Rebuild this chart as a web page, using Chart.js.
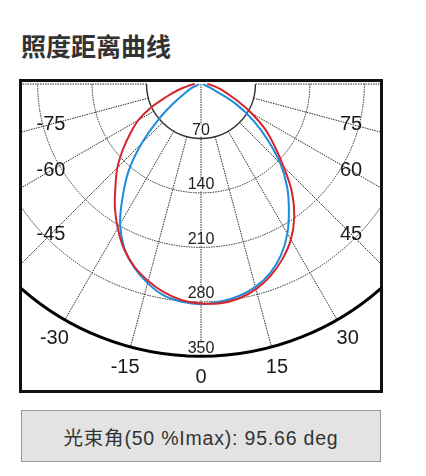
<!DOCTYPE html>
<html><head><meta charset="utf-8">
<script src="https://cdn.jsdelivr.net/npm/chart.js@4"></script>
<style>
html,body{margin:0;padding:0;background:#fff}
body{width:426px;height:476px;position:relative;overflow:hidden;font-family:"Liberation Sans",Arial,sans-serif}
#title{position:absolute;left:21px;top:33px;font-weight:bold;font-size:25px;line-height:25px;font-family:"Noto Sans CJK SC",sans-serif;color:#333;white-space:nowrap}
#box{position:absolute;left:19px;top:79px;width:358px;height:308px;border:3px solid #111}
#box canvas{display:block}
#info{position:absolute;left:21px;top:410px;width:358px;height:50px;background:#e3e3e3;border:1.5px solid #9a9a9a;display:flex;align-items:center;justify-content:center;font-size:19.5px;letter-spacing:0.8px;color:#333;font-family:"Liberation Sans","Noto Sans CJK SC",sans-serif;white-space:nowrap}
</style></head>
<body>
<div id="title">照度距离曲线</div>
<div id="box"><canvas id="c" width="358" height="308"></canvas></div>
<div id="info">光束角(50 %Imax): 95.66 deg</div>
<script>
const angles = [-90,-85,-80,-75,-70,-65,-60,-55,-50,-45,-40,-35,-30,-25,-20,-15,-10,-5,0,5,10,15,20,25,30,35,40,45,50,55,60,65,70,75,80,85,90];
const redValues = [8,12,19,31,46,70,93,111,131,152,171,193,214,234,250,262,272,279,282,283,280,273,262,248,231,209,182,150,123,100,75,52,36,26,18,12,8];
const blueValues = [3,3,4,5,8,15,24,43,72,108,144,175,208,233,251,265,276,281,283,281,277,270,259,243,222,197,172,144,112,83,53,20,8,5,4,3,3];
const ringTicks = [70,140,210,280,350];
const angleTicks = [-75,-60,-45,-30,-15,0,15,30,45,60,75];
const gridAngles = [-90,-75,-60,-45,-30,-15,0,15,30,45,60,75,90];

const K = 0.778; // px per unit
const toXY = vals => vals.map((v,i)=>{const t=angles[i]*Math.PI/180;return {x:v*Math.sin(t), y:-v*Math.cos(t)};});

const polarGrid = {
  id:'polarGrid',
  beforeDatasetsDraw(chart){
    const {ctx, chartArea:a, scales:{x,y}} = chart;
    const cx = x.getPixelForValue(0), cy = y.getPixelForValue(0);
    const px = v => x.getPixelForValue(v) - cx;
    ctx.save();
    ctx.beginPath(); ctx.rect(a.left,a.top,a.right-a.left,a.bottom-a.top); ctx.clip();
    // radial lines
    ctx.strokeStyle='#2a2a2a'; ctx.lineWidth=1; ctx.setLineDash([1.5,1]);
    gridAngles.forEach(g=>{
      const t=g*Math.PI/180, r0 = g===0?0:px(ringTicks[0]), r1=px(ringTicks[ringTicks.length-1]);
      ctx.beginPath();
      ctx.moveTo(cx+r0*Math.sin(t), cy+r0*Math.cos(t));
      ctx.lineTo(cx+r1*Math.sin(t), cy+r1*Math.cos(t));
      ctx.stroke();
    });
    // rings
    ringTicks.forEach((tk,i)=>{
      const r=px(tk);
      ctx.beginPath(); ctx.arc(cx,cy,r,0,Math.PI,false);
      if(i===ringTicks.length-1){ctx.setLineDash([]);ctx.strokeStyle='#000';ctx.lineWidth=3;}
      else if(i===0){ctx.setLineDash([]);ctx.strokeStyle='#333';ctx.lineWidth=1.4;}
      else {ctx.setLineDash([1.5,1]);ctx.strokeStyle='#2a2a2a';ctx.lineWidth=1;}
      ctx.stroke();
    });
    ctx.setLineDash([]);
    // ring labels
    ctx.font='16px "Liberation Sans", Arial, sans-serif';
    ctx.textAlign='center'; ctx.textBaseline='middle';
    ringTicks.forEach(tk=>{
      const r=px(tk), ly=cy+r-8;
      const w=ctx.measureText(String(tk)).width;
      ctx.fillStyle='#fff'; ctx.fillRect(cx-w/2-1, ly-6, w+2, 12);
      ctx.fillStyle='#222'; ctx.fillText(String(tk), cx, ly);
    });
    // angle labels
    ctx.font='20px "Liberation Sans", Arial, sans-serif';
    ctx.fillStyle='#1a1a1a';
    const R=px(377), lim=150;
    angleTicks.forEach(g=>{
      const t=g*Math.PI/180;
      let dx=R*Math.sin(t), dy=R*Math.cos(t);
      if(Math.abs(dx)>lim){const s=lim/Math.abs(dx);dx*=s;dy*=s;}
      ctx.fillText(String(g), cx+dx, cy+dy);
    });
    ctx.restore();
  }
};

new Chart(document.getElementById('c'), {
  type:'scatter',
  data:{datasets:[
    {label:'red', data:toXY(redValues), showLine:true, borderColor:'#d7252d', borderWidth:2, pointRadius:0, tension:0.4, fill:false},
    {label:'blue', data:toXY(blueValues), showLine:true, borderColor:'#1c8ddc', borderWidth:2, pointRadius:0, tension:0.4, fill:false}
  ]},
  options:{
    responsive:false, animation:false,
    layout:{padding:0},
    plugins:{legend:{display:false}, tooltip:{enabled:false}},
    scales:{
      x:{type:'linear', display:false, min:-179/K, max:179/K},
      y:{type:'linear', display:false, min:-306/K, max:2/K}
    }
  },
  plugins:[polarGrid]
});
</script>
</body></html>
